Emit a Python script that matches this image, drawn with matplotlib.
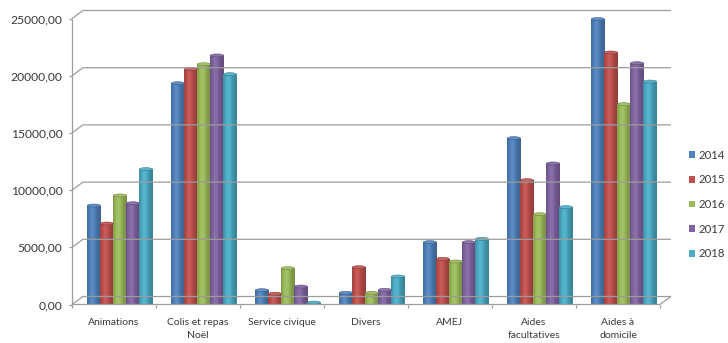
import numpy as np
import matplotlib
matplotlib.use("Agg")
import matplotlib.pyplot as plt
import matplotlib.colors as mcolors
from matplotlib.lines import Line2D
from matplotlib.patches import Patch, Ellipse
from matplotlib.transforms import IdentityTransform

# ---------------- data ----------------
categories = ["Animations", "Colis et repas\nNoël", "Service civique", "Divers",
              "AMEJ", "Aides\nfacultatives", "Aides à\ndomicile"]
years = ["2014", "2015", "2016", "2017", "2018"]
v2014 = [8650, 19340, 1250, 1020, 5450, 14540, 24950]
v2015 = [7080, 20570, 940, 3260, 3990, 10870, 22030]
v2016 = [9530, 21000, 3170, 1020, 3760, 7890, 17510]
v2017 = [8850, 21770, 1570, 1280, 5450, 12330, 21090]
v2018 = [11830, 20130, 170, 2450, 5740, 8510, 19490]
series = [v2014, v2015, v2016, v2017, v2018]
yticks = [0, 5000, 10000, 15000, 20000, 25000]
ytick_labels = ["0,00", "5000,00", "10000,00", "15000,00", "20000,00", "25000,00"]

colors = ["#4F81BD", "#C0504D", "#9BBB59", "#8064A2", "#4BACC6"]

# ---------------- style ----------------
plt.rcParams["font.family"] = ["Lato", "DejaVu Sans"]
TXT = "#3a3a3a"
GRID = "#9c9c9c"
FS = 7.5
FS_NUM = 8.7
FS_LEG = 8.2

W, H, DPI = 728, 343, 100
fig = plt.figure(figsize=(W / DPI, H / DPI), dpi=DPI)
fig.patch.set_facecolor("white")

# axes: x from 72px to 660px, y(0) at 304.5px from top, y(25000) at 18.5px
ax = fig.add_axes([72 / W, (H - 304.5) / H, 588 / W, 286 / H])
ax.set_facecolor("none")
for s in ax.spines.values():
    s.set_visible(False)

n_cat = len(categories)
x = np.arange(n_cat)
bw = 0.155
shift = 0.07  # perspective shift of the bars


def shade(c, f):
    c = np.array(mcolors.to_rgb(c))
    if f >= 1:
        return c + (1 - c) * (f - 1)
    return c * f


t = np.linspace(0, 1, 40)
profile = 0.78 + 0.30 * np.exp(-((t - 0.38) / 0.30) ** 2)

cap_h = 3.0 * 25000 / 286  # ellipse height (3 px) in data units

for i, (vals, col) in enumerate(zip(series, colors)):
    xs = x + shift + (i - 2) * bw
    bars = ax.bar(xs, vals, width=bw, color=col, edgecolor="none", zorder=3,
                  clip_on=False)
    grad = np.array([[shade(col, min(f, 1.3)) for f in profile]])
    for b in bars:
        x0 = b.get_x()
        h = b.get_height()
        im = ax.imshow(grad, extent=(x0, x0 + bw, 0, h), aspect="auto",
                       zorder=3.1, interpolation="bilinear")
        im.set_clip_path(b)
        im.set_clip_on(True)
        ell = Ellipse((x0 + bw / 2, h), bw, cap_h, facecolor=shade(col, 1.1),
                      edgecolor=shade(col, 0.72), lw=0.4, zorder=3.2,
                      clip_on=False)
        ax.add_patch(ell)

ax.set_xlim(-0.5, n_cat - 0.5)
ax.set_ylim(0, 25000)

# ticks & labels
ax.set_yticks(yticks)
ax.set_yticklabels(ytick_labels, fontsize=FS_NUM, color=TXT)
ax.tick_params(axis="y", length=0, pad=7)
ax.set_xticks(x)
ax.set_xticklabels(categories, fontsize=FS, color=TXT, linespacing=1.45)
ax.tick_params(axis="x", length=0, pad=10)

# ---------------- 3D-like frame (display coordinates) ----------------
fig.canvas.draw()
ident = IdentityTransform()
DX, DY = 11, 8  # depth offset of the back wall in px
xl = ax.transAxes.transform((0, 0))[0]
xr = ax.transAxes.transform((1, 0))[0]

def add_line(xs_, ys_, lw=0.9, color=GRID, z=1):
    fig.add_artist(Line2D(xs_, ys_, transform=ident, color=color, lw=lw,
                          zorder=z, solid_capstyle="butt"))

for v in yticks:
    yf = ax.transData.transform((0, v))[1]
    # diagonal + back wall gridline
    add_line([xl, xl + DX, xr + DX], [yf, yf + DY, yf + DY])
    # tick
    add_line([xl - 3.5, xl], [yf, yf])

y0 = ax.transData.transform((0, 0))[1]
y25 = ax.transData.transform((0, 25000))[1]
# left axis
add_line([xl, xl], [y0, y25])
# front floor edge and right side
add_line([xl, xr, xr + DX], [y0, y0, y0 + DY])
# category ticks
for k in range(n_cat + 1):
    xp = ax.transData.transform((k - 0.5, 0))[0]
    add_line([xp, xp], [y0, y0 - 3.5])

# ---------------- legend ----------------
handles = [Patch(facecolor=c, edgecolor="none") for c in colors]
fig.legend(handles, years, loc="center left",
           bbox_to_anchor=(689 / W, 1 - 204.5 / H), frameon=False,
           fontsize=FS_LEG, labelcolor=TXT, handlelength=0.55, handleheight=0.55,
           handletextpad=0.3, labelspacing=1.2, borderpad=0, borderaxespad=0)

fig.savefig("out.png", dpi=DPI, facecolor="white")
